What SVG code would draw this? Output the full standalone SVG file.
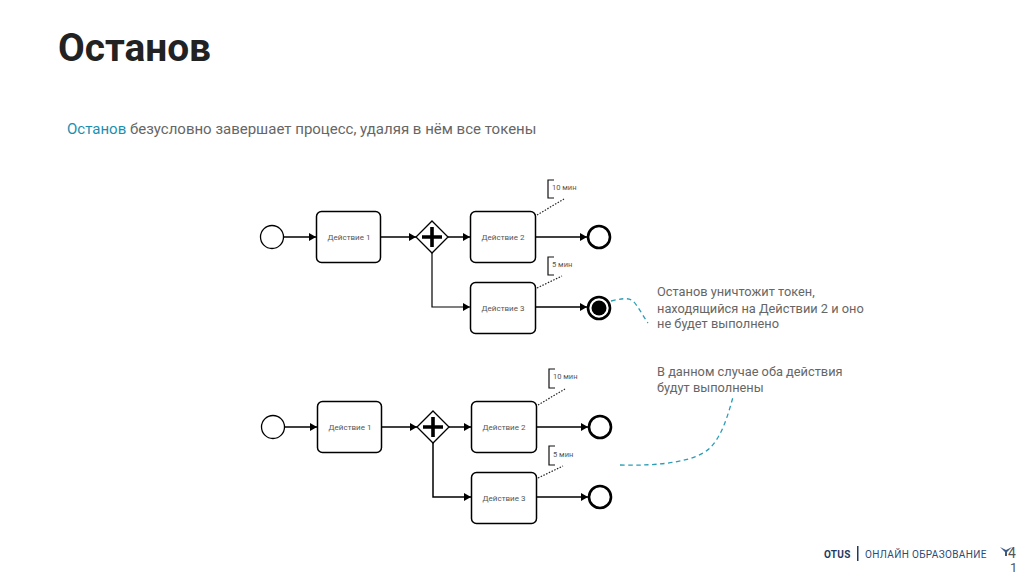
<svg xmlns="http://www.w3.org/2000/svg" width="1024" height="574" viewBox="0 0 1024 574">
<defs>
<marker id="arr" markerUnits="userSpaceOnUse" markerWidth="9" markerHeight="10" refX="7" refY="5" orient="auto"><path d="M0 1 L7 5 L0 9 Z" fill="#000"/></marker>
</defs>
<style>
text{font-family:Roboto,"Liberation Sans",sans-serif}
.task{fill:#fff;stroke:#000;stroke-width:1.5}
.lbl{font-size:8px;fill:#555;text-anchor:middle}
.dur{font-size:7.5px;fill:#555}
.flow{fill:none;stroke:#000;stroke-width:1.5;marker-end:url(#arr)}
.thin{fill:none;stroke:#000;stroke-width:1.2;marker-end:url(#arr)}
.dot{fill:none;stroke:#222;stroke-width:1.2;stroke-dasharray:1.5 1.5}
.brk{fill:none;stroke:#111;stroke-width:1.2}
.dash{fill:none;stroke:#2a9db5;stroke-width:1.3;stroke-dasharray:4.5 3.5}
.note{font-size:12.8px;fill:#666}
.start{fill:#fff;stroke:#000;stroke-width:1.3}
.end{fill:#fff;stroke:#000;stroke-width:2.6}
.gw{fill:#fff;stroke:#000;stroke-width:1.3}
.plus{fill:none;stroke:#000;stroke-width:3.6}
</style>
<text x="58" y="61" font-size="38.800" font-weight="700" fill="#222" id="title">Останов</text>
<text x="67" y="134" font-size="15" fill="#666" id="intro"><tspan fill="#1a8fb0">Останов</tspan> безусловно завершает процесс, удаляя в нём все токены</text>

<g id="connectors">
<path class="flow" d="M284 237H316"/>
<path class="flow" d="M381 237H416"/>
<path class="flow" d="M448 237H470"/>
<path class="flow" d="M536 237H587"/>
<path class="thin" d="M432 253V307H470"/>
<path class="flow" d="M536 307H587"/>
<path class="dot" d="M537 215L564 199"/>
<path class="dot" d="M537 288L562 276"/>
<path class="flow" d="M285 427H317"/>
<path class="flow" d="M382 427H417"/>
<path class="flow" d="M449 427H471"/>
<path class="flow" d="M537 427H588"/>
<path class="flow" d="M433 443V497H471"/>
<path class="flow" d="M537 497H588"/>
<path class="dot" d="M538 405L565 389"/>
<path class="dot" d="M538 478L563 466"/>
<path class="dash" d="M611 301C620 299 628 297 633 301C638 306 643 316 648 323"/>
<path class="dash" d="M620 465C660 466 695 462 710 448C722 436 728 415 733 397"/>
</g>

<g id="s1"><circle class="start" cx="272" cy="237" r="11.5"/></g>
<g id="t1"><rect class="task" x="316.500" y="211.500" width="64" height="51" rx="5"/><text class="lbl" x="349" y="239.500">Действие 1</text></g>
<g id="g1"><path class="gw" d="M432 221L448 237L432 253L416 237Z"/><path class="plus" d="M432 227V247M422 237H442"/></g>
<g id="t2"><rect class="task" x="470.500" y="211.500" width="65" height="51" rx="5"/><text class="lbl" x="503" y="239.500">Действие 2</text></g>
<g id="t3"><rect class="task" x="470.500" y="282.500" width="65" height="51" rx="5"/><text class="lbl" x="503" y="310.500">Действие 3</text></g>
<g id="e1"><circle class="end" cx="599" cy="237" r="11"/></g>
<g id="e2"><circle class="end" cx="599" cy="308" r="11"/><circle cx="599" cy="308" r="7.500" fill="#000"/></g>
<g id="a1"><path class="brk" d="M554 180H548V198H554"/><text class="dur" x="552" y="190">10 мин</text></g>
<g id="a2"><path class="brk" d="M554 257H548V275H554"/><text class="dur" x="552" y="267">5 мин</text></g>

<g id="s2"><circle class="start" cx="273" cy="427" r="11.5"/></g>
<g id="t4"><rect class="task" x="317.500" y="401.500" width="64" height="51" rx="5"/><text class="lbl" x="350" y="429.500">Действие 1</text></g>
<g id="g2"><path class="gw" d="M433 411L449 427L433 443L417 427Z"/><path class="plus" d="M433 417V437M423 427H443"/></g>
<g id="t5"><rect class="task" x="471.500" y="401.500" width="65" height="51" rx="5"/><text class="lbl" x="504" y="429.500">Действие 2</text></g>
<g id="t6"><rect class="task" x="471.500" y="472.500" width="65" height="51" rx="5"/><text class="lbl" x="504" y="500.500">Действие 3</text></g>
<g id="e3"><circle class="end" cx="600" cy="427" r="11"/></g>
<g id="e4"><circle class="end" cx="600" cy="497" r="11"/></g>
<g id="a3"><path class="brk" d="M555 369H549V388H555"/><text class="dur" x="553" y="379">10 мин</text></g>
<g id="a4"><path class="brk" d="M555 446H549V465H555"/><text class="dur" x="553" y="457">5 мин</text></g>

<g id="n1"><text class="note" x="657" y="296">Останов уничтожит токен,</text><text class="note" x="657" y="313">находящийся на Действии 2 и оно</text><text class="note" x="657" y="328">не будет выполнено</text></g>
<g id="n2"><text class="note" x="657" y="376">В данном случае оба действия</text><text class="note" x="657" y="392">будут выполнены</text></g>

<g id="footer">
<text x="824" y="558" font-size="10" font-weight="700" fill="#1f3a63" letter-spacing=".3">OTUS</text>
<rect x="857" y="546" width="1.500" height="15" fill="#1f3a63"/>
<text x="865" y="558" font-size="10" fill="#2c4a75" letter-spacing=".35">ОНЛАЙН ОБРАЗОВАНИЕ</text>
<path d="M1000 547L1006 550L1012 547L1007 552V556H1005V552Z" fill="#3a5a85"/>
<text x="1008" y="558" font-size="14" fill="#555">4</text>
<text x="1010" y="572" font-size="13" fill="#555">1</text>
</g>
</svg>
